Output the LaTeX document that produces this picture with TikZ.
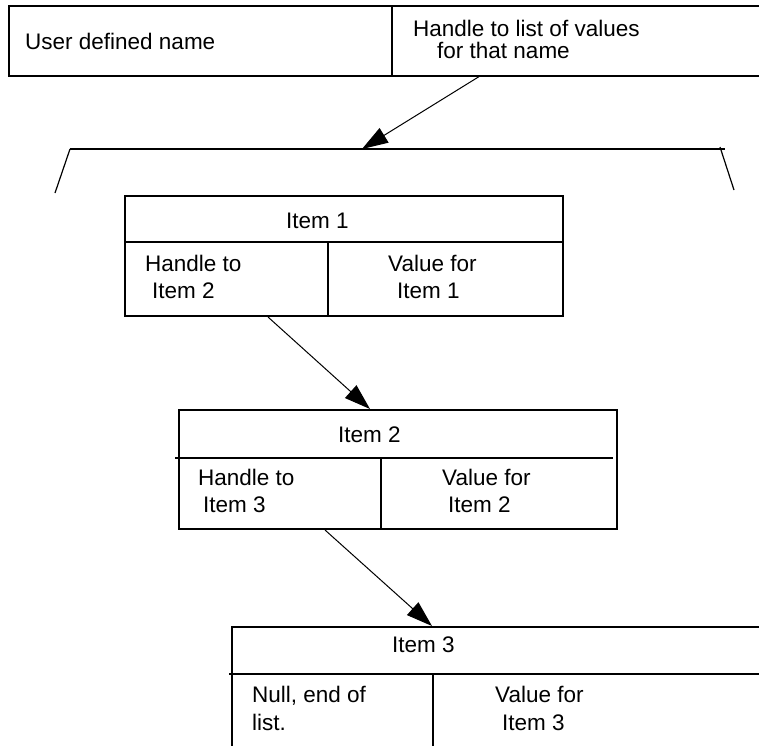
\documentclass[tikz,border=0pt]{standalone}
\usepackage{fontspec}
\setmainfont{Liberation Sans}
\usetikzlibrary{arrows.meta}
\begin{document}
\begin{tikzpicture}[x=1pt,y=-1pt,
  box/.style={draw,line width=2.6pt,rectangle,inner sep=0pt},
  div/.style={line width=2.6pt},
  txt/.style={anchor=base west,inner sep=0pt,font=\fontsize{22.5}{27}\selectfont},
  arr/.style={line width=1pt,-{Triangle[length=26pt,width=17pt]}},
  bracket/.style={line width=2.2pt},
  leg/.style={line width=1.2pt}]
\useasboundingbox (0,0) rectangle (759,745);

% top record
\node[box,minimum width=761pt,minimum height=70pt] (top) at (389.5,41) {};
\coordinate (td1) at (392,6);
\coordinate (td2) at (392,76);
\draw[div] (td1) -- (td2);
\node[txt] (tUser) at (25,49) {User defined name};
\node[txt] (tHandleA) at (413,36) {Handle to list of values};
\node[txt] (tHandleB) at (437,58) {for that name};

% bracket (list)
\coordinate (bl) at (70,149);
\coordinate (br) at (725,149);
\coordinate (bm) at (362,149);
\coordinate (bll) at (55,193);
\coordinate (brr) at (734,190);
\coordinate (brt) at (720,147);
\draw[bracket] (bl) -- (br);
\draw[leg] (bl) -- (bll);
\draw[leg] (brt) -- (brr);

% item 1
\node[box,minimum width=438pt,minimum height=120pt] (item1) at (344,256) {};
\coordinate (i1h1) at (125,242);
\coordinate (i1h2) at (563,242);
\coordinate (i1v1) at (328,242);
\coordinate (i1v2) at (328,316);
\draw[div] (i1h1) -- (i1h2);
\draw[div] (i1v1) -- (i1v2);
\node[txt] (i1t) at (286,228) {Item 1};
\node[txt] (i1a) at (145,271) {Handle to};
\node[txt] (i1b) at (152,298) {Item 2};
\node[txt] (i1c) at (388,271) {Value for};
\node[txt] (i1d) at (397,298) {Item 1};

% item 2
\node[box,minimum width=438pt,minimum height=119pt] (item2) at (398,469.5) {};
\coordinate (i2h1) at (175,458);
\coordinate (i2h2) at (613,458);
\coordinate (i2v1) at (381,458);
\coordinate (i2v2) at (381,529);
\draw[div] (i2h1) -- (i2h2);
\draw[div] (i2v1) -- (i2v2);
\node[txt] (i2t) at (338,442) {Item 2};
\node[txt] (i2a) at (198,485) {Handle to};
\node[txt] (i2b) at (203,512) {Item 3};
\node[txt] (i2c) at (442,485) {Value for};
\node[txt] (i2d) at (448,512) {Item 2};

% item 3
\node[box,minimum width=538pt,minimum height=133pt] (item3) at (501,693.5) {};
\coordinate (i3h1) at (229,674);
\coordinate (i3h2) at (770,674);
\coordinate (i3v1) at (433,674);
\coordinate (i3v2) at (433,760);
\draw[div] (i3h1) -- (i3h2);
\draw[div] (i3v1) -- (i3v2);
\node[txt] (i3t) at (392,652) {Item 3};
\node[txt] (i3a) at (252,702) {Null, end of};
\node[txt] (i3b) at (252,730) {list.};
\node[txt] (i3c) at (495,702) {Value for};
\node[txt] (i3d) at (502,730) {Item 3};

% connectors
\coordinate (a0s) at (480,76);
\coordinate (a1s) at (268,317);
\coordinate (a1e) at (370,409);
\coordinate (a2s) at (325,530);
\coordinate (a2e) at (432,626);
\draw[arr] (a0s) -- (bm);
\draw[arr] (a1s) -- (a1e);
\draw[arr] (a2s) -- (a2e);
\end{tikzpicture}
\end{document}
